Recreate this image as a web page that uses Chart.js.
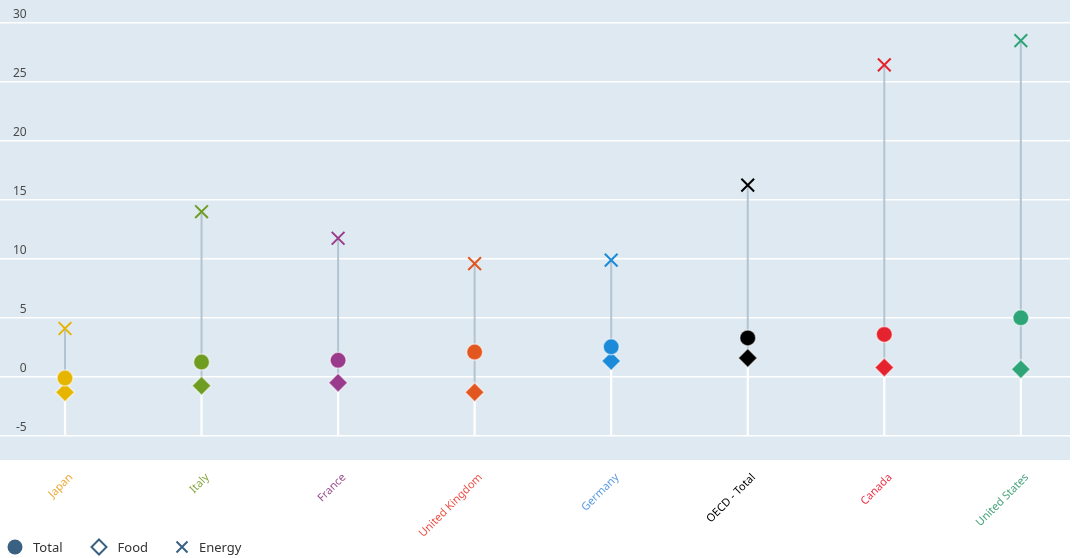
<!DOCTYPE html>
<html lang="en">
<head>
    <meta charset="UTF-8">
    <title>Total, food and energy inflation</title>
    <script src="https://cdn.jsdelivr.net/npm/chart.js@4.4.1/dist/chart.umd.min.js"></script>
    <style>
        html, body { margin: 0; padding: 0; background: #fff; }
        .wrap { position: relative; width: 1072px; height: 558px; }
        .legend {
            position: absolute; left: 7px; top: 537px; height: 20px;
            display: flex; align-items: center;
            font-family: "Noto Sans", sans-serif; font-size: 13px; color: #333;
        }
        .legend span { display: flex; align-items: center; margin-right: 27px; }
        .legend svg { margin-right: 10px; }
    </style>
</head>
<body>

<div class="wrap">
    <canvas id="myChart" width="1072" height="558"></canvas>
    <!-- legend kept as html so spacing matches -->
    <div class="legend">
        <span><svg width="16" height="16"><circle cx="8" cy="8" r="7.5" fill="#3b6182"/></svg>Total</span>
        <span><svg width="18" height="18"><path d="M9 1.5 L16.5 9 L9 16.5 L1.5 9 Z" fill="none" stroke="#3b6182" stroke-width="2"/></svg>Food</span>
        <span><svg width="14" height="14"><path d="M1.5 1.5 L12.5 12.5 M12.5 1.5 L1.5 12.5" stroke="#3b6182" stroke-width="2"/></svg>Energy</span>
    </div>
</div>

<script>
    // data (%)
    var countries = ['Japan', 'Italy', 'France', 'United Kingdom', 'Germany', 'OECD - Total', 'Canada', 'United States'];
    var total  = [-0.1, 1.25, 1.4, 2.1, 2.55, 3.3, 3.6, 5.0];
    var food   = [-1.3, -0.75, -0.5, -1.3, 1.35, 1.6, 0.8, 0.65];
    var energy = [4.1, 14.0, 11.75, 9.6, 9.9, 16.25, 26.45, 28.5];
    var yTicks = [-5, 0, 5, 10, 15, 20, 25, 30];

    var colors = ['#e6b500', '#6f9d22', '#993a8a', '#e2561f', '#1b8ad8', '#000000', '#e4232f', '#2ea577'];
    var labelColors = ['#f0a935', '#86a842', '#9b4f8f', '#ec5148', '#5b9be3', '#000000', '#ec3247', '#47a37a'];

    function pts(arr) {
        return arr.map(function (v, i) { return { x: i, y: v }; });
    }

    var rangeBars = countries.map(function (c, i) {
        return { x: i, y: [Math.min(total[i], food[i], energy[i]), Math.max(total[i], food[i], energy[i])] };
    });
    var stemBars = countries.map(function (c, i) {
        return { x: i, y: [yTicks[0], Math.min(total[i], food[i], energy[i])] };
    });

    var plotBg = {
        id: 'plotBg',
        beforeDraw: function (chart) {
            var a = chart.chartArea, ctx = chart.ctx;
            ctx.save();
            ctx.fillStyle = '#dee9f1';
            ctx.fillRect(a.left, a.top, a.right - a.left, a.bottom - a.top);
            ctx.restore();
        }
    };

    function noPad(scale) {
        scale.paddingLeft = 0;
        scale.paddingRight = 0;
        scale.paddingTop = 0;
        scale.paddingBottom = 0;
    }

    var ctx = document.getElementById('myChart').getContext('2d');
    var myChart = new Chart(ctx, {
        type: 'scatter',
        data: {
            datasets: [
                {
                    label: 'Energy', data: pts(energy), order: 1,
                    pointStyle: 'crossRot', pointRadius: 9, pointHoverRadius: 9,
                    borderColor: colors, pointBorderWidth: 2
                },
                {
                    label: 'Total', data: pts(total), order: 2,
                    pointStyle: 'circle', pointRadius: 8, pointHoverRadius: 8,
                    backgroundColor: colors, borderColor: 'rgba(255,255,255,0.55)', pointBorderWidth: 1.5
                },
                {
                    label: 'Food', data: pts(food), order: 3,
                    pointStyle: 'rectRot', pointRadius: 9.5, pointHoverRadius: 9.5,
                    backgroundColor: colors, borderColor: 'rgba(255,255,255,0.55)', pointBorderWidth: 1.5
                },
                {
                    type: 'bar', label: 'range', data: rangeBars, order: 5,
                    backgroundColor: '#b3c3cf', barThickness: 1.3, grouped: false
                },
                {
                    type: 'bar', label: 'stem', data: stemBars, order: 6,
                    backgroundColor: '#ffffff', barThickness: 1.6, grouped: false
                }
            ]
        },
        options: {
            responsive: false,
            animation: false,
            layout: { autoPadding: false, padding: { left: 0, right: 2, top: 0, bottom: 0 } },
            plugins: {
                legend: { display: false },
                tooltip: { enabled: false }
            },
            scales: {
                x: {
                    type: 'linear',
                    offset: false,
                    min: -0.476,
                    max: 7.36,
                    grid: { display: false, offset: false },
                    border: { display: false },
                    afterBuildTicks: function (scale) {
                        scale.ticks = countries.map(function (c, i) { return { value: i }; });
                    },
                    afterFit: function (scale) { scale.height = 98; noPad(scale); },
                    ticks: {
                        autoSkip: false,
                        minRotation: 45,
                        maxRotation: 45,
                        padding: 3,
                        labelOffset: 6,
                        font: { family: 'Noto Sans', size: 11 },
                        color: function (c) { return labelColors[c.tick.value] || '#333'; },
                        callback: function (v) { return countries[v]; }
                    }
                },
                y: {
                    min: -7.05,
                    max: 31.95,
                    border: { display: false },
                    grid: { color: '#ffffff', lineWidth: 1.6, drawTicks: false },
                    afterBuildTicks: function (scale) {
                        scale.ticks = yTicks.map(function (v) { return { value: v }; });
                    },
                    afterFit: function (scale) { scale.width = 0; noPad(scale); },
                    ticks: {
                        mirror: true,
                        crossAlign: 'far',
                        padding: 13,
                        labelOffset: -8,
                        color: '#4a4a4a',
                        font: { family: 'Noto Sans', size: 12 }
                    }
                }
            }
        },
        plugins: [plotBg]
    });
</script>

</body>
</html>
